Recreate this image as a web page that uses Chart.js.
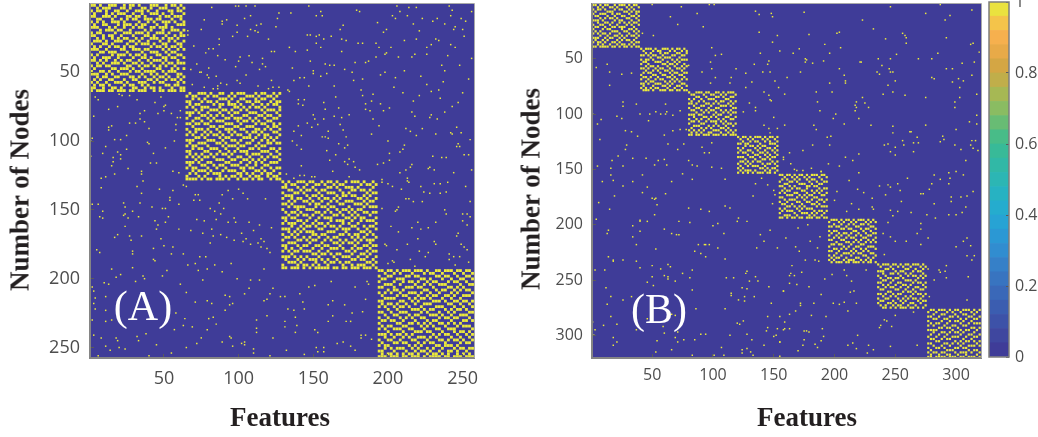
<!DOCTYPE html>
<html>
<head>
<meta charset="utf-8">
<script src="https://cdn.jsdelivr.net/npm/chart.js@4"></script>
<style>
    html, body { margin: 0; padding: 0; background: #fff; }
    body { position: relative; width: 1038px; height: 437px; overflow: hidden; }
    canvas { position: absolute; top: 0; }
    .label { position: absolute; white-space: nowrap; font-family: "Liberation Serif", serif; transform: translate(-50%, -50%); }
    .axis-title { font-size: 27px; font-weight: bold; color: #231f20; }
    .panel-tag { font-size: 42px; color: #fff; }
    .rot { transform: translate(-50%, -50%) rotate(-90deg); }
</style>
</head>
<body>
<canvas id="chart-a" width="519" height="437" style="left:0"></canvas>
<canvas id="chart-b" width="475" height="437" style="left:510px"></canvas>
<canvas id="chart-bar" width="53" height="437" style="left:985px"></canvas>
<div class="label axis-title rot" style="left:20px;top:190px">Number of Nodes</div>
<div class="label axis-title rot" style="left:531px;top:189px">Number of Nodes</div>
<div class="label axis-title" style="left:280px;top:417px">Features</div>
<div class="label axis-title" style="left:807px;top:417px">Features</div>
<div class="label panel-tag" style="left:143px;top:306px">(A)</div>
<div class="label panel-tag" style="left:659px;top:309px">(B)</div>
<script>
const ticksA = [50, 100, 150, 200, 250];
const ticksB = [50, 100, 150, 200, 250, 300];
const ticksBar = [0, 0.2, 0.4, 0.6, 0.8, 1];

const edgesA = [0.5, 64.4, 128.6, 193.1, 257.6];
const edgesB = [0.5, 40, 79.4, 119.7, 154, 194.6, 234.9, 276, 320.5];

const dotsA = [
    [82,3],[98,2],[100,2],[105,2],[111,2],[127,7],[126,11],[104,11],[108,9],[77,12],[89,13],[92,12],[89,15],[99,16],[115,15],[112,16],[108,19],[111,20],[113,21],[125,17],[75,19],[66,20],[66,23],[99,21],[96,24],[106,24],[120,26],[87,26],[87,30],[70,31],[80,33],[83,33],[78,36],[86,38],[122,35],[124,35],[107,38],[101,39],[100,42],[91,41],[109,43],[116,40],[116,44],[118,46],[72,44],[98,46],[80,47],[114,48],[68,48],[75,50],[74,50],[79,52],[85,53],[105,52],[80,54],[88,58],[92,59],[99,56],[101,58],[69,59],[77,61],[83,62],[86,60],[86,62],[113,60],[122,56],[123,61],[120,62],[127,61],
    [4,68],[6,70],[20,66],[22,67],[27,67],[32,70],[44,72],[48,68],[51,74],[50,75],[13,77],[19,75],[61,78],[37,78],[34,80],[3,82],[50,78],[46,80],[55,80],[59,83],[61,83],[34,84],[37,86],[27,87],[31,87],[58,88],[13,90],[15,89],[13,92],[40,91],[58,92],[25,96],[21,99],[17,99],[2,98],[1,100],[39,101],[40,102],[57,100],[11,104],[25,106],[51,105],[9,109],[1,111],[19,108],[21,110],[16,112],[21,113],[15,118],[16,115],[41,116],[45,116],[43,109],[26,120],[35,122],[35,124],[56,122],[60,123],[8,127],[11,126],[17,124],
    [147,2],[179,5],[181,6],[135,7],[155,6],[152,9],[156,9],[203,9],[205,11],[206,2],[214,3],[219,3],[208,6],[213,9],[223,11],[233,11],[230,13],[238,15],[217,15],[193,14],[241,2],[243,5],[242,9],[249,11],[256,6],[252,13],[245,17],[244,19],[250,19],[251,24],[221,20],[199,19],[197,21],[170,16],[168,19],[146,23],[148,23],[154,23],[152,24],[162,24],[157,26],[169,26],[172,27],[152,29],[180,29],[183,29],[192,29],[211,27],[219,26],[232,26],[234,27],[229,30],[226,32],[242,30],[245,32],[134,32],[138,35],[146,34],[155,32],[169,35],[194,32],[202,32],[199,36],[198,37],[218,37],[226,37],[240,38],[216,39],[207,39],[192,39],[148,42],[158,44],[161,45],[164,45],[178,43],[185,43],[187,42],[256,40],[248,45],[236,45],[238,49],[211,49],[136,47],[171,48],[150,49],[150,51],[159,51],[176,50],[198,50],[195,52],[155,53],[141,54],[144,54],[137,56],[177,56],[183,55],[205,54],[222,53],[237,57],[254,55],[147,60],[164,60],[204,61],[226,59],
    [133,63],[134,64],[182,63],[190,66],[183,67],[210,65],[229,64],[234,63],[250,65],[221,67],[165,68],[144,70],[140,70],[140,73],[143,74],[157,72],[189,71],[217,71],[235,69],[247,72],[185,73],[195,73],[243,75],[167,76],[201,76],[158,77],[185,77],[188,78],[197,78],[216,79],[238,79],[150,81],[174,81],[164,82],[169,83],[218,82],[229,81],[228,83],[151,84],[190,84],[233,84],[157,84],[146,87],[153,88],[168,88],[140,89],[149,90],[194,89],[212,91],[223,91],[170,92],[246,90],[137,93],[160,93],[215,93],[232,95],[242,94],[243,95],[249,94],[189,95],[142,96],[219,96],[156,97],[158,97],[172,97],[160,98],[136,100],[200,100],[255,99],[167,102],[247,102],[211,103],[139,103],[173,103],[171,105],[246,104],[248,104],[142,106],[159,107],[210,106],[208,108],[201,109],[165,110],[230,111],[236,112],[239,112],[251,110],[254,110],[174,113],[177,115],[161,114],[171,115],[201,114],[197,116],[193,117],[173,117],[142,118],[216,117],[178,119],[181,121],[215,119],[228,119],[227,120],[231,121],[212,121],[163,122],[256,121],[208,123],[244,123],[132,124],[141,125],[144,125],[149,126],[151,126],[174,126],[213,127],[137,127],[196,128],
    [8,134],[32,133],[36,129],[35,138],[47,135],[56,136],[54,141],[54,143],[24,148],[23,145],[34,145],[2,146],[6,146],[42,148],[49,149],[51,149],[60,146],[9,151],[29,151],[24,153],[23,154],[7,155],[9,156],[33,155],[53,155],[26,156],[44,158],[51,159],[46,161],[24,162],[45,164],[60,164],[68,165],[63,132],[65,133],[71,139],[73,139],[70,143],[74,143],[89,139],[93,136],[100,135],[103,138],[96,142],[106,142],[118,142],[87,145],[90,149],[81,149],[84,151],[88,153],[97,156],[72,157],[77,158],[85,157],[93,159],[98,159],[107,159],[114,161],[82,164],[110,165],[122,163],[76,167],[102,167],[19,168],[17,170],[27,169],[35,169],[83,169],[88,168],[92,170],[48,171],[28,172],[105,171],[115,171],[97,172],[103,173],[117,173],[81,174],[108,175],[113,174],[50,176],[56,177],[115,177],[119,178],[43,178],[5,179],[29,180],[7,181],[121,181],
    [196,130],[200,131],[203,133],[213,129],[214,130],[209,135],[222,133],[231,131],[235,131],[240,130],[252,133],[224,137],[228,138],[235,138],[239,137],[212,142],[214,142],[217,144],[223,144],[255,144],[207,148],[196,149],[206,150],[205,151],[238,150],[239,153],[250,153],[253,153],[255,155],[250,158],[220,159],[232,159],[253,161],[202,162],[216,163],[222,164],[227,163],[207,166],[247,167],[246,169],[220,171],[231,173],[213,175],[198,175],[199,176],[232,175],[249,175],[251,177],[253,179],[206,179],[221,180],[227,181],[241,182],[225,184],[244,184],[248,184],[241,186],[215,186],[203,187],[204,188],[200,189],[254,188],[245,190],[218,191],
    [29,182],[43,186],[44,187],[55,182],[63,182],[66,190],[71,189],[74,184],[78,184],[84,190],[95,189],[29,192],[15,193],[79,193],[117,193],[18,199],[21,197],[36,198],[37,200],[49,198],[52,194],[73,194],[76,201],[89,195],[99,200],[108,201],[114,201],[2,206],[10,203],[13,204],[31,202],[61,204],[107,207],[104,211],[3,209],[4,214],[11,213],[11,223],[3,218],[4,222],[65,210],[71,217],[79,216],[82,218],[91,212],[94,213],[94,219],[96,218],[91,223],[117,216],[119,215],[123,207],[128,213],[131,213],[121,211],[58,225],[64,229],[80,229],[83,228],[2,230],[11,231],[15,230],[63,234],[69,235],[79,237],[85,233],[112,230],[119,227],[131,231],[112,236],[112,239],[131,235],[138,228],[139,234],[138,239],[57,237],[38,240],[18,243],[19,245],[32,242],[33,245],[3,241],[8,243],[11,249],[14,252],[20,250],[24,251],[45,248],[55,254],[40,256],[6,256],[65,250],[75,243],[72,247],[89,246],[94,242],[95,243],[96,249],[102,247],[104,246],[104,248],[110,251],[110,254],[123,243],[132,252],[121,256],[144,255],[152,250],[153,253],[157,250],[157,253],[166,247],[170,246],[175,249],[178,252],[182,241],[185,241],[182,243],[189,244],
    [141,211],[143,217],[144,222],[137,223],[133,222],[147,206],[151,205],[162,202],[178,206],[186,202],[187,204],[160,219],[163,216],[171,219],[176,225],[183,224],[185,215],[172,231],[175,231],[160,231],[163,227],[153,239],[151,237]
];

const dotsB = [
    [50,1],[74,3],[97,1],[101,1],[65,12],[87,9],[71,19],[92,21],[42,27],[51,29],[99,40],[102,47],[107,46],[98,53],[99,59],[91,62],[80,56],[115,67],[119,59],[102,67],[114,72],[98,72],[13,55],[4,58],[15,62],[25,64],[33,63],[15,74],[26,89],[26,93],[37,91],[61,91],[62,98],[53,98],[57,100],[61,100],[67,101],[73,97],[40,100],[48,100],[21,102],[1,100],[25,104],[8,105],[5,109],[47,106],[28,115],[33,116],[38,120],[67,115],[73,114],[78,114],[60,119],[7,123],[29,128],[28,132],[63,127],[71,132],[76,127],[91,130],[99,126],[93,135],[97,135],[22,138],[17,142],[34,140],[45,140],[60,141],[55,142],[80,142],[5,147],[26,147],[16,149],[52,146],[62,146],[83,146],[87,147],[99,148],[107,149],
    [16,155],[42,155],[75,154],[9,161],[18,160],[34,161],[26,165],[46,166],[66,161],[83,159],[110,159],[19,174],[42,171],[61,172],[50,176],[52,177],[53,176],[54,182],[6,180],[15,186],[80,185],[90,186],[97,188],[110,183],[114,185],[52,191],[4,195],[40,196],[40,197],[46,197],[72,197],[81,198],[104,199],[100,201],[121,194],[120,197],[128,197],[133,174],[135,163],[140,158],[145,164],[150,169],[151,173],[149,181],[34,201],[14,205],[13,208],[40,206],[60,204],[66,208],[70,209],[72,209],[34,211],[109,208],[147,205],[139,209],[142,215],[37,218],[88,218],[93,218],[97,218],[94,218],[104,221],[136,221],[153,221],[53,222],[85,224],[90,226],[94,229],[14,229],[18,232],[18,233],[26,232],[37,233],[110,231],[50,237],[63,236],[65,238],[40,239],[57,240],[3,241],[11,241],[83,241],[128,242],[75,244],[50,247],[60,246],[63,247],[63,249],[81,248],[111,248],[117,248],[127,244],[135,247],[130,251],[137,251],[46,252],[69,251],[51,255],[12,257],[124,257],[128,258],[146,256],[158,260],[83,259],[115,262],[115,264],[126,265],[134,265],[16,265],[33,265],[26,268],[121,268],[126,269],[13,272],[148,271],[86,276],[110,276],[16,283],[155,283],[145,283],[1,288],[10,291],[21,290],[69,282],[66,281],[46,285],[120,289],[122,290],[125,287],[59,292],[37,295],[3,295],[60,298],[71,297],[69,302],[90,299],[94,299],[114,300],[128,299],[145,293],[144,296],[153,294],[159,294],[152,300],[150,301],[2,300],[18,302],[21,306],[18,309],[54,305],[71,306],[76,304],[85,304],[132,304],[155,306],[142,309],[107,311],[66,313],[53,315],[124,313],[128,312],[131,315],[124,316],[133,318],[83,318],[101,318],[109,318],[155,319],
    [189,152],[220,153],[212,160],[237,165],[244,164],[246,166],[252,163],[260,158],[282,155],[287,159],[294,153],[300,152],[306,155],[295,158],[280,163],[294,163],[202,170],[219,168],[224,171],[254,169],[242,173],[271,172],[273,172],[278,168],[296,175],[296,179],[304,175],[309,174],[314,170],[231,176],[200,178],[214,181],[255,179],[231,184],[282,181],[308,184],[210,188],[220,186],[246,187],[263,189],[232,186],[252,188],[276,191],[294,191],[300,191],[305,189],[248,192],[283,194],[244,198],[271,199],[170,203],[178,200],[240,208],[246,211],[268,208],[271,204],[277,212],[309,212],[306,215],[259,215],[250,215],[160,212],[180,215],[188,211],[168,220],[186,221],[171,224],[271,218],[300,220],[312,219],[241,227],[309,228],[315,228],[176,232],[184,232],[187,233],[313,232],[165,237],[208,241],[226,241],[173,243],[164,244],[163,246],[167,246],[198,245],[210,246],[214,251],[277,240],[286,241],[287,243],[292,237],[291,242],[282,250],[292,248],[310,247],[192,249],[163,253],[169,254],[179,256],[278,265],[309,268],[158,260],[189,263],[213,261],[216,260],[208,270],[199,271],[183,271],[204,272],[218,271],[172,271],[172,273],[168,278],[163,281],[181,282],[193,283],[211,278],[250,282],[265,279],[241,286],[243,287],[237,293],[238,291],[247,292],[159,288],[158,295],[163,294],[175,296],[177,296],[179,297],[190,294],[191,301],[219,300],[175,304],[189,305],[184,308],[174,309],[186,311],[170,314],[155,306],[211,309],[215,307],[228,309],[218,312],[227,316],[232,313],[246,310],[268,309],
    [246,3],[275,9],[287,1],[295,11],[291,15],[313,6],[223,15],[232,23],[242,32],[256,27],[258,29],[259,31],[259,36],[292,31],[312,37],[314,36],[285,45],[251,46],[319,44],[246,50],[236,50],[269,50],[280,50],[221,53],[239,56],[245,59],[235,62],[237,64],[246,62],[248,62],[292,59],[297,59],[305,54],[315,53],[313,65],[280,67],[282,68],[250,70],[302,68],[297,71],[306,70],[244,74],[303,76],[248,80],[240,82],[258,83],[275,85],[303,85],[317,82],[223,85],[225,90],[228,94],[299,89],[299,94],[317,101],[311,107],[317,109],[230,110],[248,111],[275,110],[300,114],[248,117],[262,116],[263,116],[289,120],[268,121],[290,123],[287,125],[256,124],[313,124],[316,124],[265,126],[269,126],[241,128],[244,127],[257,128],[250,130],[299,128],[312,128],[304,132],[314,131],[318,133],[246,134],[265,134],[250,137],[308,142],
    [135,7],[138,10],[148,9],[149,12],[175,8],[138,26],[153,29],[179,28],[202,27],[204,26],[149,35],[192,37],[155,43],[171,41],[139,45],[166,45],[196,45],[205,40],[176,50],[177,51],[146,52],[145,55],[134,55],[176,53],[182,54],[191,52],[222,53],[127,63],[141,62],[147,62],[172,62],[204,59],[208,65],[161,67],[151,70],[132,71],[196,72],[209,70],[209,72],[127,76],[154,76],[185,80],[198,80],[142,80],[146,83],[159,82],[147,87],[148,88],[186,89],[218,89],[130,90],[217,92],[218,94],[135,94],[135,97],[188,97],[217,97],[125,98],[201,100],[150,103],[199,104],[220,104],[142,110],[159,110],[183,110],[208,109],[146,113],[153,113],[185,114],[147,117],[194,121],[197,120],[182,128],[196,128],[174,133],[163,135],[158,139],[158,141],[220,136],[209,139],[215,142],[164,145],[195,145],[204,147],[181,149],[167,150],[169,151],[174,151],[189,152]
];

// Diagonal blocks, coarsened to about 2 units a cell. Hand estimated from the
// crops, so the overall texture is right but single cells are not exact.
const blockA1 = [
    '11010011100101101000111001011010','00101110001101000110100111000101','10110100110010011101001000110110','01000101011100100100111010010001',
    '11001110100011011010000101101110','00110001001010110011101100010010','10101001110100001001010011101001','01001100010111010110001001000111',
    '11100010100100101100110111010000','00010111011001000010100010011101','10110000100111011101001110100010','11001011001000100011010001001011',
    '00101001010110010100111010110100','01110100111001101001000100101001','10001101000010010111010011000110','01010010110101100000101101011010',
    '11100100001100111011000010100101','00011011100010000100111001011000','10100001011101011010001100100110','01001110010000100110100011011001',
    '11010100101011001001011101000100','00101001110100110100100010110111','10110110000011001011010101001000','01000001101110100100001100010101',
    '10011010010001011011110010111000','11100101001110000100101001000110','00101100110001101010010110100101','01010011000100110001101001011010',
    '10100100111010001110010110000101','01011010000101100101000001101100','11001001101000110010110100010011','10111011011101101110010110111011'
];
const blockA2 = [
    '01001110100110010111000101100101','10110001011000101000111010011010','00101010000111010011000101100100','11000101101000100100110110001011',
    '01011000010110111010001001010110','10100111000100001101010110100001','00010100111011010010100001011101','11101001000100101100011100100010',
    '01000110101010010001100011011001','10011001010001101110010100100110','00100100101110000101101010011000','11011011000001110010000101100101',
    '00100000110110001100111000010110','10011101001001110011000110101001','01010010100100101000101101000110','10100101011010010110010010110001',
    '00011010000101100001110100101010','11100001110010011010001001010100','01001110001101000100110010011011','10110001000010111011000101100000',
    '00101100111001000100011010001101','11000011000100101011100001110010','01010100101011010000101110001001','10101011010000100110010001010110',
    '00010100001110011001101010100001','11101001100001100010010101001110','01000110010110011100100100110000','10110001001001000011011001001011',
    '00101110100010111001000110100100','01010001011100000110101001011001','10001010000101011010010110010110','11110101101110100101101011001011'
];
const blockA3 = [
    '10100111011001011010010111010010','01011000100110100101100000101101','11000101001000011010011101000010','00110010110101100001000110110100',
    '10001101000010011100101000001011','01110000101101000010110110010100','10010110010010110101000001101001','00101001101001001010011100010110',
    '11010000010110010001100011101000','00101111000101101100001000010111','10000100111000010010110101100000','01011010000110101001001010011011',
    '00100101101001000110100101000100','11011000010010111000011010110001','01000110100100001011100100101110','10111001001011010000101001000001',
    '00010010110100101101000110010110','11100101000011000010111001001001','00101010111000011100010000110100','10010100001101100001101011001010',
    '01101001010010010110000101010001','10000110101100101001010010101110','00111000010001000110101101000100','11000101100110110001000010011011',
    '01010010001001001110100101100100','10101101110010010000011010001011','00010000001101101011000100110100','11101010100010000100111001001001',
    '01000101011101010010000110110010','00111010000100101101011000001101','10000101101010010000100101110010','11011101010111110110110111011101'
];
const blockA4 = [
    '11011010111011101001101110110110','00100101000100010110010001001001','10011000011011000001101100100110','01100011100000110100010010011001',
    '10000100101101001011000101100100','00111001000010010100111000010011','11000100011101100010000110101000','00010110100000011001011001010110',
    '10101001001110100100100010100001','01000010110001001011001101001110','00111100001010110100010010010000','11000001100101000011101001101101',
    '01011010010010011100000110010010','10100101101000100001110001001001','00010010000111010110001010110100','11001001110000101000100101000011',
    '00100110001011000111010010011100','10010001010100110000101101100010','01101100100010001011000010001101','10000011001101010100110101010000',
    '01011000110000101010001000101110','10100111001100010001100111000001','00010000100011101100010001011010','11101011010100000010101100100101',
    '00100100101001110101000010010010','10011001000110001000110101101001','01000110110001010110001000010110','10110000001010100001101110100000',
    '00101011100101001010010001011011','11000100010010110100100110100100','01011010101101001011010100101010','11101110110111010111101101110111'
];

const blockB1 = ['11010110010111010110','00101001101000101001','10110100010110010100','01000011100001101011','10011100101100010010','01100010010011001101','00010101101000110010','11101000010110001001','00100110100101010110','10011001001000101001','01100100110111000100','10001011000010011010','01010000111001100101','10101101000100010010','00010010011010101101','11100101100101000010','01001010001010110100','10110100110100001011','00101001001011010100','11011110110101101011'];
const blockB2 = ['10111010011101011010','01000101100010100101','00101000101100011001','11010110010001100110','00001001101110001000','10110100010001010111','01100011100100101000','10010000011011010010','00101101000100100101','11010010110010011010','00100101001101000100','01011000100010110011','10000110011001001100','01101001000110100010','10010010110001010101','00101100001010101000','11010011100101000110','01000100011010011001','10101011000100100100','01110100111011011011'];
const blockB3 = ['10011101100110101110','01100010011001010001','00011001000110100110','10100100111000011000','01001010000101100101','11010001101010001010','00100110010001110100','10011000100110000011','01100101011001010100','00010010100100101011','11101100001011000100','00100011010100011001','10010100100010100110','01101001011101010000','10000110000100101101','00111000101010010010','01000101010001101000','10101010001110010101','01010100110001001010','11011011101110110111'];
const blockB4 = ['10110101110101101','01001010001010010','00100101100101001','11011000010001110','00010110101100001','10100001010011010','01001100100100101','10110010011010010','00001001100101001','11100110010010110','00010001001101000','01101010110000101','10010100001011010','01001011100100001','10100000011010110','01011101000101001','10101010111011010'];
const blockB5 = ['11011010110101110110','00100101001010001001','01010010100101100100','10001101000010010011','00110000111001001100','11001010000110110000','00100101100100001011','01011000011001010100','10100011000100101001','00011100101011000110','11000001010100110000','00101110001001001101','10010001100110010010','01100100010001101000','00011010101000010111','10100001010111000000','01011100100000101101','10000010011101010010','00111001000010100100','11010110110111011011'];
const blockB6 = ['01110101101011101010','10001010010100010101','00100100101001101000','11011001000110000110','00000110110001011001','10110000001100100100','01001011010010010011','10010100100101001100','00101001011000110001','11000110000101001010','00010001101010010101','01101100010001100000','10000010100110001110','00110101001001010001','11001000010100101000','00010011101011000110','10100100010000110001','01011001000110001010','10100010111001010100','01011101101110101101'];
const blockB7 = ['10111011010110111010','01000100101001000101','00011010000110010010','11100001011000101100','00100110100101000010','10010000010010110101','01001101101000001010','00110010000111010000','11000100110000101101','00101001001101000010','10010110010010011001','01100001100100100110','00001100001011010000','11010010110000101101','00100101000101000010','10011000101010110100','01100010010100001011','10001101001001100100','01010010110010010001','00110101011101101010'];
const blockB8 = ['01101110101101110101','10010001010010001010','00100110001001100100','11001000110100011001','00110011000010100110','10000100101101001000','01011001000010010111','10100010011001100000','00001101100100001101','11110000010010110010','00100110101101000100','01001001000010011001','10010010011100100110','01100101100001001000','00011000001010110101','11000011010101000010','00100100100010011101','10011010001101100000','01000001110000010110','10110110001011101001','01001001100100100010','11011110111011011101'];

const blocksA = [blockA1, blockA2, blockA3, blockA4];
const blocksB = [blockB1, blockB2, blockB3, blockB4, blockB5, blockB6, blockB7, blockB8];

const barEdges = [0, 0.04, 0.08, 0.12, 0.16, 0.2, 0.24, 0.28, 0.32, 0.36, 0.4, 0.44, 0.48, 0.52, 0.56, 0.6, 0.64, 0.68, 0.72, 0.76, 0.8, 0.84, 0.88, 0.92, 0.96, 1];
const barColors = ['#3f3c98', '#3f479f', '#3d52a8', '#3b5db0', '#3a68b8', '#3874c0', '#3680c8', '#318dd0', '#2b98d4', '#27a3d4', '#25acce', '#27b2c2', '#2cb6b4', '#31b8a6', '#38ba98', '#48bc88', '#68bc74', '#8abc62', '#a6b854', '#c0ae4a', '#d4a644', '#e8aa48', '#f6b04e', '#f4c44a', '#eae23f'];

const chartFont = '"Open Sans", sans-serif';
const navy = '#3f3c98';
const yellow = '#ecea3c';

// fills the matrix zeros and puts the thin frame round the image
const heatFrame = {
    id: 'heatFrame',
    beforeDatasetsDraw(chart) {
        const { ctx, chartArea: a } = chart;
        ctx.save();
        ctx.fillStyle = navy;
        ctx.fillRect(a.left, a.top, a.width, a.height);
        ctx.restore();
    },
    afterDraw(chart) {
        const { ctx, chartArea: a } = chart;
        ctx.save();
        ctx.strokeStyle = '#a9a9a9';
        ctx.lineWidth = 1;
        ctx.beginPath();
        ctx.moveTo(a.left, a.top - 0.5);
        ctx.lineTo(a.right + 0.5, a.top - 0.5);
        ctx.lineTo(a.right + 0.5, a.bottom);
        ctx.stroke();
        ctx.restore();
    }
};

const barFrame = {
    id: 'barFrame',
    afterDraw(chart) {
        const { ctx, chartArea: a } = chart;
        ctx.save();
        ctx.strokeStyle = '#7d7d7d';
        ctx.lineWidth = 1.5;
        ctx.strokeRect(a.left, a.top, a.width, a.height);
        ctx.restore();
    }
};

const blockCells = (blocks, edges) => {
    const cells = [];
    blocks.forEach((rows, b) => {
        const cellH = (edges[b + 1] - edges[b]) / rows.length;
        rows.forEach((row, r) => {
            const cellW = (edges[b + 1] - edges[b]) / row.length;
            [...row].forEach((c, col) => {
                if (c === '1') {
                    cells.push({ x: edges[b] + (col + 0.5) * cellW, y: edges[b] + (r + 0.5) * cellH });
                }
            });
        });
    });
    return cells;
};

const heatAxis = (max, tickValues, fontSize, padding, position) => ({
    type: 'linear',
    position: position,
    reverse: position === 'left',
    min: 0.5,
    max: max,
    afterBuildTicks: (scale) => { scale.ticks = tickValues.map((v) => ({ value: v })); },
    ticks: { color: '#4d4d4d', padding: padding, maxRotation: 0, font: { family: chartFont, size: fontSize } },
    grid: { drawOnChartArea: false, tickLength: -4, tickColor: '#5a5a5a', tickWidth: 1, z: 1 },
    border: { color: '#858585', width: 2, z: 1 }
});

const clearPadding = (scale) => {
    scale.paddingTop = 0;
    scale.paddingBottom = 0;
    scale.paddingLeft = 0;
    scale.paddingRight = 0;
};

const drawHeat = (id, blocks, edges, dots, tickValues, opts) => {
    new Chart(document.getElementById(id), {
        type: 'scatter',
        data: {
            datasets: [
                { data: dots.map((d) => ({ x: d[0], y: d[1] })), pointStyle: 'rect', pointRadius: 1.05, backgroundColor: yellow, borderWidth: 0 },
                { data: blockCells(blocks, edges), pointStyle: 'rect', pointRadius: opts.cellRadius, backgroundColor: yellow, borderWidth: 0 }
            ]
        },
        options: {
            responsive: false,
            animation: false,
            layout: { padding: { top: 2, right: opts.rightPad, left: 0, bottom: 0 } },
            plugins: { legend: { display: false }, tooltip: { enabled: false } },
            scales: {
                x: Object.assign(heatAxis(edges[edges.length - 1], tickValues, opts.fontSize, opts.xPad, 'bottom'), {
                    afterFit: (scale) => { scale.height = 79; clearPadding(scale); }
                }),
                y: Object.assign(heatAxis(edges[edges.length - 1], tickValues, opts.fontSize, opts.yPad, 'left'), {
                    afterFit: (scale) => { scale.width = opts.leftWidth; clearPadding(scale); }
                })
            }
        },
        plugins: [heatFrame]
    });
};

drawHeat('chart-a', blocksA, edgesA, dotsA, ticksA, { cellRadius: 2, fontSize: 18, xPad: 14, yPad: 14, leftWidth: 90, rightPad: 45 });
drawHeat('chart-b', blocksB, edgesB, dotsB, ticksB, { cellRadius: 1.55, fontSize: 16, xPad: 12, yPad: 13, leftWidth: 82, rightPad: 4 });

new Chart(document.getElementById('chart-bar'), {
    type: 'bar',
    data: {
        labels: [''],
        datasets: barColors.map((color, i) => ({
            data: [[barEdges[i], barEdges[i + 1]]],
            backgroundColor: color,
            borderWidth: 0,
            barPercentage: 1,
            categoryPercentage: 1
        }))
    },
    options: {
        responsive: false,
        animation: false,
        layout: { padding: { top: 2, left: 4, right: 0, bottom: 80 } },
        plugins: { legend: { display: false }, tooltip: { enabled: false } },
        scales: {
            x: { stacked: true, display: false },
            y: {
                position: 'right',
                min: 0,
                max: 1,
                afterBuildTicks: (scale) => { scale.ticks = ticksBar.map((v) => ({ value: v })); },
                afterFit: (scale) => { scale.width = 29; clearPadding(scale); },
                ticks: { color: '#4d4d4d', padding: 9, font: { family: chartFont, size: 16 }, callback: (v) => String(v) },
                grid: { drawOnChartArea: false, tickLength: -3, tickColor: '#5a5a5a', z: 1 },
                border: { display: false }
            }
        }
    },
    plugins: [barFrame]
});
</script>
</body>
</html>
